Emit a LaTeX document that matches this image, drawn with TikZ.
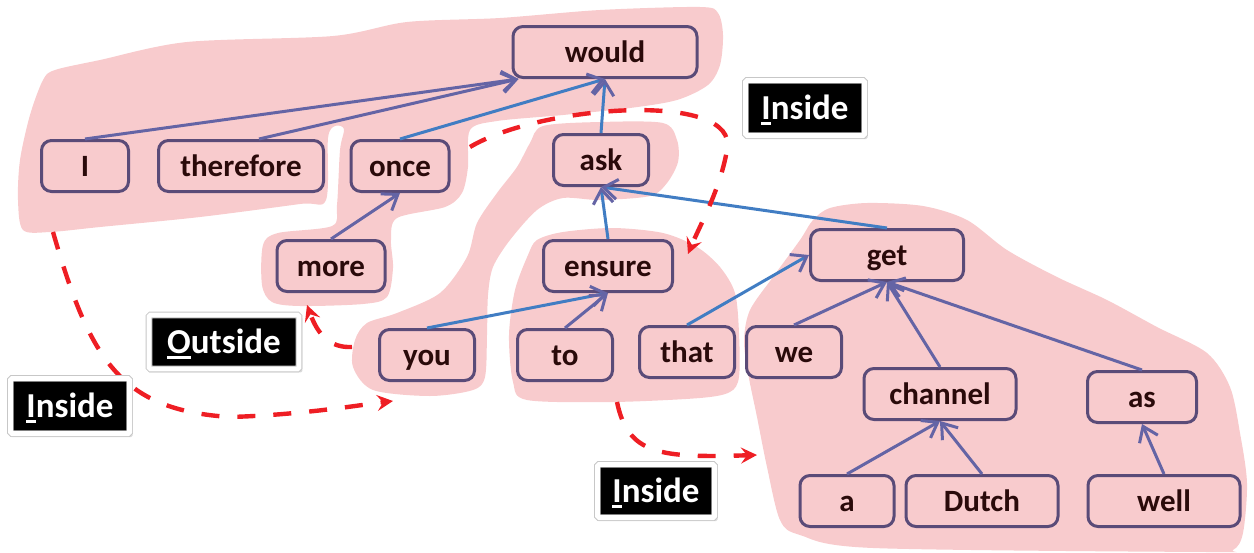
\documentclass[tikz,border=0pt]{standalone}
\usepackage{fontspec}
\setmainfont{Carlito}
\usetikzlibrary{arrows.meta, shadows}

\definecolor{blobpink}{HTML}{F8CBCD}
\definecolor{nodeline}{HTML}{5A4B78}
\definecolor{edgepurple}{HTML}{6464A5}
\definecolor{edgeblue}{HTML}{417DC3}
\definecolor{wordtext}{HTML}{2A0A0A}
\definecolor{dashred}{HTML}{EE1E24}

\newcommand{\keyletter}[1]{\setbox0\hbox{#1}\rlap{\rule[-2.8pt]{\wd0}{1.5pt}}\box0}

\begin{document}
\begin{tikzpicture}[x=0.5pt, y=-0.5pt,
		word/.style={draw=nodeline, line width=1.5pt, rounded corners=5pt, minimum height=25.5pt, inner sep=0pt,
			text height=12.5pt, text depth=2pt, font=\fontsize{15.5}{18}\selectfont\bfseries, text=wordtext},
		dep/.style={draw=edgepurple, line width=1.5pt, -{Straight Barb[length=7pt, width=10pt, color=edgepurple]}},
		depblue/.style={dep, draw=edgeblue},
		move/.style={draw=dashred, line width=2.2pt, dash pattern=on 9pt off 9pt, -{Stealth[length=8pt, width=8pt, inset=3pt]}},
		tag/.style={fill=black, draw=black!22, line width=0.45pt, double=white, double distance=2.4pt,
			rounded corners=0.8pt, minimum height=27.6pt, inner sep=0pt,
			text height=13.5pt, text depth=2pt, font=\fontsize{17.5}{20}\selectfont\bfseries, text=white,
			drop shadow={shadow xshift=0.6pt, shadow yshift=-1.3pt, shadow scale=1.03, opacity=0.3, fill=black!50}}]
			\useasboundingbox (0,0) rectangle (1254,552);
			
			% Draw blobs
			\fill[blobpink] plot[smooth cycle, tension=0.5] coordinates {(23,230) (18,200) (20,160) (30,115) (43,80) (55,70) (100,60) (187,42) (333,36) (407,22) (500,18) (600,10) (700,7) (718,13) (723,35) (720,65) (708,85) (677,100) (630,108) (563,115) (497,121) (470,130) (468,167) (462,193) (445,207) (397,218) (391,240) (393,268) (387,297) (363,304) (300,306) (272,302) (262,285) (263,245) (278,233) (332,226) (337,205) (340,150) (344,129) (335,126) (328,138) (326,200) (300,204) (200,217) (100,227) (50,232)};
			\fill[blobpink] plot[smooth cycle, tension=0.5] coordinates {(543,126) (600,122) (663,123) (677,140) (678,162) (667,183) (650,196) (600,200) (563,198) (537,210) (510,240) (493,267) (488,295) (487,335) (485,377) (473,390) (430,396) (373,390) (353,367) (355,340) (367,323) (397,313) (440,293) (467,257) (477,223) (497,193) (517,167) (530,143)};
			\fill[blobpink] plot[smooth cycle, tension=0.5] coordinates {(537,240) (563,232) (613,228) (663,233) (697,247) (720,267) (735,293) (739,333) (739,377) (730,392) (700,398) (613,402) (527,400) (513,382) (509,335) (515,290) (528,255)};
			\fill[blobpink] plot[smooth cycle, tension=0.5] coordinates {(800,240) (813,220) (830,208) (867,203) (923,206) (967,220) (1007,250) (1057,277) (1107,300) (1157,327) (1207,353) (1230,387) (1240,433) (1247,483) (1243,533) (1233,550) (1207,552) (873,548) (800,535) (780,520) (767,467) (757,417) (748,373) (744,340) (750,310) (773,277)};
			
			% Draw words
			\node[word, minimum width=92pt] (would) at (605,52) {would};
			\node[word, minimum width=43.5pt] (I) at (85,166) {I};
			\node[word, minimum width=82.5pt] (therefore) at (241,166) {therefore};
			\node[word, minimum width=49pt] (once) at (400,166) {once};
			\node[word, minimum width=47.5pt] (ask) at (601,160) {ask};
			\node[word, minimum width=54pt] (more) at (331,266) {more};
			\node[word, minimum width=64.5pt] (ensure) at (608,266) {ensure};
			\node[word, minimum width=76.5pt] (get) at (887,255) {get};
			\node[word, minimum width=47.5pt] (you) at (427,355) {you};
			\node[word, minimum width=47.5pt] (to) at (565,355) {to};
			\node[word, minimum width=47.5pt] (that) at (687,352) {that};
			\node[word, minimum width=47.5pt] (we) at (794,352) {we};
			\node[word, minimum width=76pt] (channel) at (940,394) {channel};
			\node[word, minimum width=54.5pt] (as) at (1142,397) {as};
			\node[word, minimum width=47pt] (a) at (847,501) {a};
			\node[word, minimum width=76pt] (Dutch) at (982,501) {Dutch};
			\node[word, minimum width=76pt] (well) at (1164,501) {well};
			
			% Draw dependencies
			\draw[dep] (I.north) -- ([xshift=3.5pt]would.south west);
			\draw[dep] ([xshift=9pt]therefore.north) -- ([xshift=3.5pt]would.south west);
			\draw[depblue] (once.north) -- (would.south);
			\draw[depblue] (ask.north) -- (would.south);
			\draw[dep] (more.north) -- (once.south);
			\draw[depblue] (ensure.north) -- (ask.south);
			\draw[depblue] (get.north) -- (ask.south);
			\draw[depblue] (you.north) -- (ensure.south);
			\draw[dep] (to.north) -- (ensure.south);
			\draw[depblue] (that.north) -- (get.west);
			\draw[dep] (we.north) -- (get.south);
			\draw[dep] (channel.north) -- (get.south);
			\draw[dep] (as.north) -- (get.south);
			\draw[dep] (a.north) -- (channel.south);
			\draw[dep] (Dutch.north) -- (channel.south);
			\draw[dep] (well.north) -- (as.south);
			
			% Draw moves
			\coordinate (topFrom) at (470,147);
			\coordinate (topTo) at (688,254);
			\coordinate (leftFrom) at (53,232);
			\coordinate (leftTo) at (393,401);
			\coordinate (outFrom) at (352,347);
			\coordinate (outTo) at (307,305);
			\coordinate (lowFrom) at (617,402);
			\coordinate (lowTo) at (757,455);
			\draw[move] (topFrom) .. controls (540,105) and (740,90) .. (727,150) .. controls (720,190) and (700,225) .. (topTo);
			\draw[move] (leftFrom) .. controls (90,360) and (120,410) .. (230,417) .. controls (300,415) and (360,405) .. (leftTo);
			\draw[move] (outFrom) .. controls (330,348) and (318,335) .. (outTo);
			\draw[move] (lowFrom) .. controls (628,455) and (660,458) .. (lowTo);
			
			% Draw tags
			\node[tag, minimum width=59.6pt] (inTop) at (805,108) {\keyletter{I}nside};
			\node[tag, minimum width=75pt, minimum height=27pt] (outMore) at (224,342) {\keyletter{O}utside};
			\node[tag, minimum width=59.6pt] (inLeft) at (70,406) {\keyletter{I}nside};
			\node[tag, minimum width=58.6pt, minimum height=26.6pt] (inLow) at (656,491) {\keyletter{I}nside};
	\end{tikzpicture}
\end{document}
